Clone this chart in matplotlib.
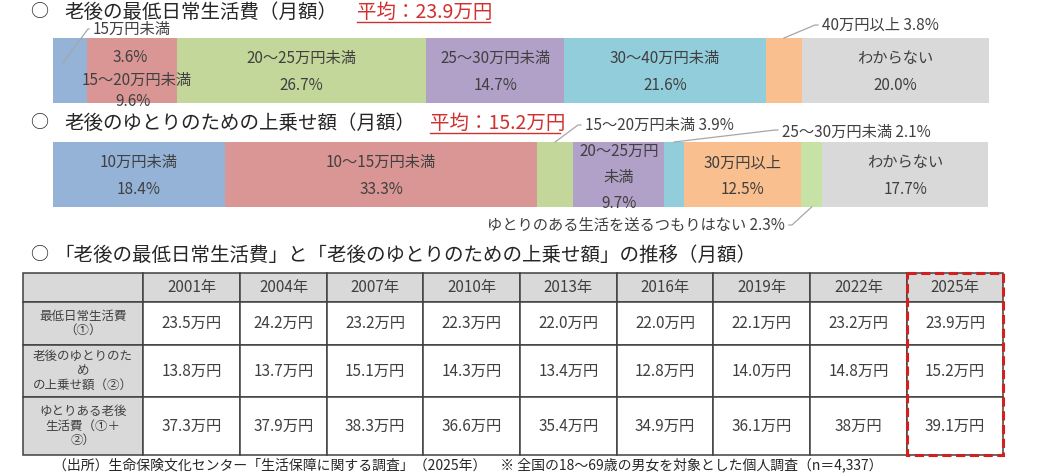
import numpy as np
import matplotlib
matplotlib.use("Agg")
import matplotlib.pyplot as plt
from matplotlib.patches import Rectangle

plt.rcParams['font.family'] = ['Noto Sans CJK JP', 'DejaVu Sans']

# ---- data ----
min_cats = ['15万円未満', '15～20万円未満', '20～25万円未満', '25～30万円未満',
            '30～40万円未満', '40万円以上', 'わからない']
min_pct = [3.6, 9.6, 26.7, 14.7, 21.6, 3.8, 20.0]
min_colors = ['#95B3D7', '#DA9694', '#C4D79B', '#B1A0C7', '#92CDDC', '#FABF8F', '#D9D9D9']

yut_cats = ['10万円未満', '10～15万円未満', '15～20万円未満', '20～25万円未満',
            '25～30万円未満', '30万円以上', 'ゆとりのある生活を送るつもりはない', 'わからない']
yut_pct = [18.4, 33.3, 3.9, 9.7, 2.1, 12.5, 2.3, 17.7]
yut_colors = ['#95B3D7', '#DA9694', '#C4D79B', '#B1A0C7', '#92CDDC', '#FABF8F', '#C6E2A4', '#D9D9D9']

years = ['2001年', '2004年', '2007年', '2010年', '2013年', '2016年', '2019年', '2022年', '2025年']
row_labels = ['最低日常生活費\n（①）', '老後のゆとりのた\nめ\nの上乗せ額（②）', 'ゆとりある老後\n生活費（①＋\n②）']
min_cost = ['23.5', '24.2', '23.2', '22.3', '22.0', '22.0', '22.1', '23.2', '23.9']
extra_cost = ['13.8', '13.7', '15.1', '14.3', '13.4', '12.8', '14.0', '14.8', '15.2']
total_cost = ['37.3', '37.9', '38.3', '36.6', '35.4', '34.9', '36.1', '38', '39.1']

W, H = 1040, 476
fig = plt.figure(figsize=(W / 100, H / 100), dpi=100)
fig.patch.set_facecolor('white')

# overlay axes in pixel units
ov = fig.add_axes([0, 0, 1, 1], zorder=5)
ov.set_xlim(0, W)
ov.set_ylim(H, 0)
ov.axis('off')
ov.patch.set_alpha(0)

TXT = '#404040'
RED = '#D03030'
LEAD = '#A6A6A6'


def bar_axes(top, bottom, left=53, right=989):
    a = fig.add_axes([left / W, 1 - bottom / H, (right - left) / W, (bottom - top) / H])
    a.set_xlim(0, 100)
    a.set_ylim(-0.5, 0.5)
    a.axis('off')
    return a


def draw_bar(a, pct, colors):
    lefts = np.concatenate([[0], np.cumsum(pct)[:-1]])
    a.barh(0, pct, left=lefts, height=1, color=colors, edgecolor='none')
    return lefts


def to_px(a, x, yfrac):
    disp = a.get_xaxis_transform().transform((x, yfrac))
    return ov.transData.inverted().transform(disp)


def leader(a, x, yfrac, corner, text_xy, label, ha='left'):
    p = to_px(a, x, yfrac)
    ov.plot([p[0], corner[0], text_xy[0] - (4 if ha == 'left' else -4)],
            [p[1], corner[1], corner[1]], color=LEAD, lw=0.9)
    ov.text(text_xy[0], text_xy[1], label, ha=ha, va='center', fontsize=11, color=TXT)


# ---- titles ----
def title(y, main, avg=None, avg_x=None, avg_w=None, tx=64):
    ov.text(39, y, '○', ha='center', va='center', fontsize=13, color='#262626')
    ov.text(tx, y, main, ha='left', va='center', fontsize=14, color='#262626')
    if avg:
        ov.text(avg_x, y, avg, ha='left', va='center', fontsize=14, color=RED)
        ov.plot([avg_x, avg_x + avg_w], [y + 10, y + 10], color=RED, lw=1)


title(12, '老後の最低日常生活費（月額）', '平均：23.9万円', 357, 133)
title(123, '老後のゆとりのための上乗せ額（月額）', '平均：15.2万円', 430, 130)
title(255, '「老後の最低日常生活費」と「老後のゆとりのための上乗せ額」の推移（月額）', tx=54)

# ---- bar 1 ----
a1 = bar_axes(38, 103)
l1 = draw_bar(a1, min_pct, min_colors)
c1 = l1 + np.array(min_pct) / 2
for i in [2, 3, 4, 6]:
    a1.text(c1[i], 0.68, min_cats[i], transform=a1.get_xaxis_transform(),
            ha='center', va='center', fontsize=11, color=TXT)
    a1.text(c1[i], 0.27, f'{min_pct[i]:.1f}%', transform=a1.get_xaxis_transform(),
            ha='center', va='center', fontsize=11, color=TXT)
# small segments
ov.text(130, 58, f'{min_pct[0]}%', ha='center', va='center', fontsize=11, color=TXT, zorder=6)
ov.text(137, 80, min_cats[1], ha='center', va='center', fontsize=11, color=TXT, zorder=6)
ov.text(133, 102, f'{min_pct[1]}%', ha='center', va='center', fontsize=11, color=TXT, zorder=6)
leader(a1, l1[0] + min_pct[0] * 0.3, 0.62, (88, 29), (93, 29), min_cats[0])
leader(a1, c1[5], 1.0, (815, 25), (822, 25), f'{min_cats[5]} {min_pct[5]}%')

# ---- bar 2 ----
a2 = bar_axes(142, 207)
l2 = draw_bar(a2, yut_pct, yut_colors)
c2 = l2 + np.array(yut_pct) / 2
for i in [0, 1, 5, 7]:
    a2.text(c2[i], 0.68, yut_cats[i], transform=a2.get_xaxis_transform(),
            ha='center', va='center', fontsize=11, color=TXT)
    a2.text(c2[i], 0.27, f'{yut_pct[i]:.1f}%', transform=a2.get_xaxis_transform(),
            ha='center', va='center', fontsize=11, color=TXT)
for txt, yf in [('20～25万円', 0.85), ('未満', 0.45), (f'{yut_pct[3]}%', 0.06)]:
    a2.text(c2[3], yf, txt, transform=a2.get_xaxis_transform(),
            ha='center', va='center', fontsize=11, color=TXT)
leader(a2, c2[2], 1.0, (578, 125), (585, 125), f'{yut_cats[2]} {yut_pct[2]}%')
leader(a2, c2[4], 1.0, (775, 130), (782, 132), f'{yut_cats[4]} {yut_pct[4]}%')
leader(a2, c2[6], 0.0, (792, 225), (785, 225), f'{yut_cats[6]} {yut_pct[6]}%', ha='right')

# ---- table ----
col_x = [23, 143, 240, 327, 423, 520, 617, 713, 810, 907, 1003]
row_y = [273, 302, 345, 397, 455]
GRID = '#404040'
HEAD = '#D9D9D9'
rows = [min_cost, extra_cost, total_cost]

for r in range(4):
    for c in range(10):
        fill = HEAD if (r == 0 or c == 0) else 'white'
        ov.add_patch(Rectangle((col_x[c], row_y[r]), col_x[c + 1] - col_x[c],
                               row_y[r + 1] - row_y[r], facecolor=fill,
                               edgecolor=GRID, lw=1.1))
for c, yr in enumerate(years):
    ov.text((col_x[c + 1] + col_x[c + 2]) / 2, (row_y[0] + row_y[1]) / 2, yr,
            ha='center', va='center', fontsize=11, color=TXT)
for r, vals in enumerate(rows):
    yc = (row_y[r + 1] + row_y[r + 2]) / 2
    ov.text((col_x[0] + col_x[1]) / 2, yc, row_labels[r], ha='center', va='center',
            fontsize=9, color=TXT, linespacing=1.15)
    for c, v in enumerate(vals):
        ov.text((col_x[c + 1] + col_x[c + 2]) / 2, yc, f'{v}万円',
                ha='center', va='center', fontsize=11, color=TXT)

# highlight for latest year
ov.add_patch(Rectangle((col_x[9], row_y[0]), col_x[10] - col_x[9], row_y[4] - row_y[0],
                       facecolor='none', edgecolor='#D02020', lw=2.2,
                       linestyle=(0, (3, 1.5)), zorder=7))

ov.text(53, 465, '（出所）生命保険文化センター「生活保障に関する調査」（2025年）　※ 全国の18～69歳の男女を対象とした個人調査（n＝4,337）',
        ha='left', va='center', fontsize=10, color='#262626')

fig.savefig('out.png', dpi=100, facecolor='white')
